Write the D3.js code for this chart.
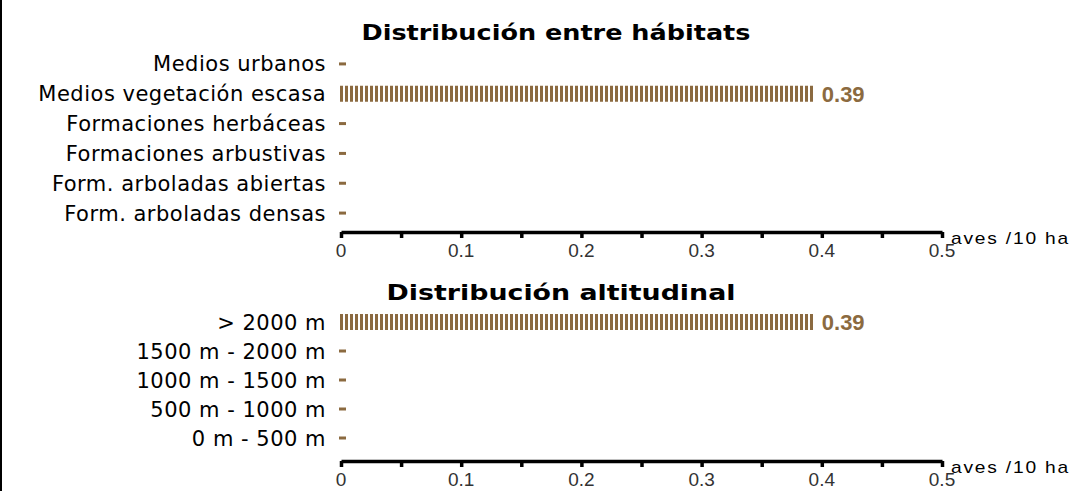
<!DOCTYPE html>
<html>
<head>
<meta charset="utf-8">
<script src="https://cdn.jsdelivr.net/npm/d3@7"></script>
<style>
  html, body { margin: 0; padding: 0; background: #fff; }
  svg { display: block; }
</style>
</head>
<body>
<div id="chart"></div>
<script>
// datos
const habitatCats = ["Medios urbanos", "Medios vegetación escasa", "Formaciones herbáceas",
  "Formaciones arbustivas", "Form. arboladas abiertas", "Form. arboladas densas"];
const habitatValues = [0, 0.39, 0, 0, 0, 0];

const altitudeCats = ["> 2000 m", "1500 m - 2000 m", "1000 m - 1500 m", "500 m - 1000 m", "0 m - 500 m"];
const altitudeValues = [0.39, 0, 0, 0, 0];

const majorTicks = [0, 0.1, 0.2, 0.3, 0.4, 0.5];
const minorTicks = [0.05, 0.15, 0.25, 0.35, 0.45];
const tickLabels = ["0", "0.1", "0.2", "0.3", "0.4", "0.5"];
const unitLabel = "aves /10 ha";

const W = 1075, H = 491;
const brown = "#8b6a40";

const svg = d3.select("#chart").append("svg")
  .attr("width", W)
  .attr("height", H);

// rayas de las barras
const defs = svg.append("defs");
defs.append("pattern")
  .attr("id", "stripes")
  .attr("patternUnits", "userSpaceOnUse")
  .attr("x", 340)
  .attr("width", 5)
  .attr("height", 40)
  .append("rect")
  .attr("width", 3)
  .attr("height", 40)
  .attr("shape-rendering", "crispEdges")
  .attr("fill", brown);

// borde izquierdo
svg.append("line")
  .attr("x1", 1).attr("x2", 1)
  .attr("y1", 0).attr("y2", H)
  .attr("stroke", "#000")
  .attr("stroke-width", 2);

const x = d3.scaleLinear()
  .domain([0, 0.5])
  .range([341, 942]);

function drawPanel(title, cats, values, titleX, titleY, titleScale, rowTop, rowBottom, axisY) {
  const g = svg.append("g");

  g.append("text")
    .attr("transform", "translate(" + titleX + "," + titleY + ") scale(" + titleScale + ",1)")
    .attr("text-anchor", "middle")
    .attr("font-family", "DejaVu Sans, Verdana, sans-serif")
    .attr("font-weight", "bold")
    .attr("font-size", 22)
    .attr("fill", "#000")
    .text(title);

  const y = d3.scaleBand()
    .domain(cats)
    .range([rowTop, rowBottom]);

  const rows = cats.map((c, i) => ({ name: c, value: values[i] }));

  // etiquetas
  g.selectAll(".lbl")
    .data(rows)
    .enter().append("text")
    .attr("class", "lbl")
    .attr("x", 326)
    .attr("y", d => y(d.name) + y.bandwidth() / 2)
    .attr("dy", "0.36em")
    .attr("text-anchor", "end")
    .attr("font-family", "DejaVu Sans, Verdana, sans-serif")
    .attr("font-size", 21)
    .attr("letter-spacing", 0.5)
    .attr("fill", "#000")
    .text(d => d.name);

  // barras (valor 0 -> guion)
  g.selectAll(".bar")
    .data(rows.filter(d => d.value > 0))
    .enter().append("rect")
    .attr("class", "bar")
    .attr("x", x(0) - 1)
    .attr("y", d => y(d.name) + y.bandwidth() / 2 - 8)
    .attr("width", d => x(d.value) - x(0) + 6)
    .attr("height", 16)
    .attr("fill", "url(#stripes)");

  g.selectAll(".dash")
    .data(rows.filter(d => d.value === 0))
    .enter().append("rect")
    .attr("class", "dash")
    .attr("x", x(0) - 2)
    .attr("y", d => y(d.name) + y.bandwidth() / 2 - 1.5)
    .attr("width", 7)
    .attr("height", 3)
    .attr("fill", brown);

  g.selectAll(".val")
    .data(rows.filter(d => d.value > 0))
    .enter().append("text")
    .attr("class", "val")
    .attr("transform", d => "translate(" + (x(d.value) + 12) + "," + (y(d.name) + y.bandwidth() / 2 + 8) + ")")
    .attr("font-family", "Liberation Sans, Arial, sans-serif")
    .attr("font-weight", "bold")
    .attr("font-size", 22)
    .attr("fill", brown)
    .text(d => d.value.toFixed(2));

  // eje
  const axis = g.append("g")
    .attr("transform", "translate(0," + axisY + ")")
    .call(d3.axisBottom(x)
      .tickValues(majorTicks.concat(minorTicks))
      .tickSize(6)
      .tickSizeOuter(0)
      .tickFormat(""));
  axis.select(".domain")
    .attr("stroke", "#000")
    .attr("stroke-width", 3.5);
  axis.selectAll(".tick line")
    .attr("stroke", "#000")
    .attr("stroke-width", 3.5);

  g.selectAll(".tl")
    .data(majorTicks)
    .enter().append("text")
    .attr("class", "tl")
    .attr("transform", d => "translate(" + x(d) + "," + (axisY + 25) + ")")
    .attr("text-anchor", "middle")
    .attr("font-family", "Liberation Sans, Arial, sans-serif")
    .attr("font-size", 19)
    .attr("fill", "#333")
    .text((d, i) => tickLabels[i]);

  g.append("text")
    .attr("transform", "translate(951," + (axisY + 12) + ") scale(1.2,1)")
    .attr("font-family", "Liberation Sans, Arial, sans-serif")
    .attr("font-size", 16)
    .attr("letter-spacing", 1.5)
    .attr("fill", "#000")
    .text(unitLabel);
}

drawPanel("Distribución entre hábitats", habitatCats, habitatValues, 556, 40, 1.16, 49, 228, 232);
drawPanel("Distribución altitudinal", altitudeCats, altitudeValues, 561, 300, 1.22, 307.5, 452.5, 461);
</script>
</body>
</html>
